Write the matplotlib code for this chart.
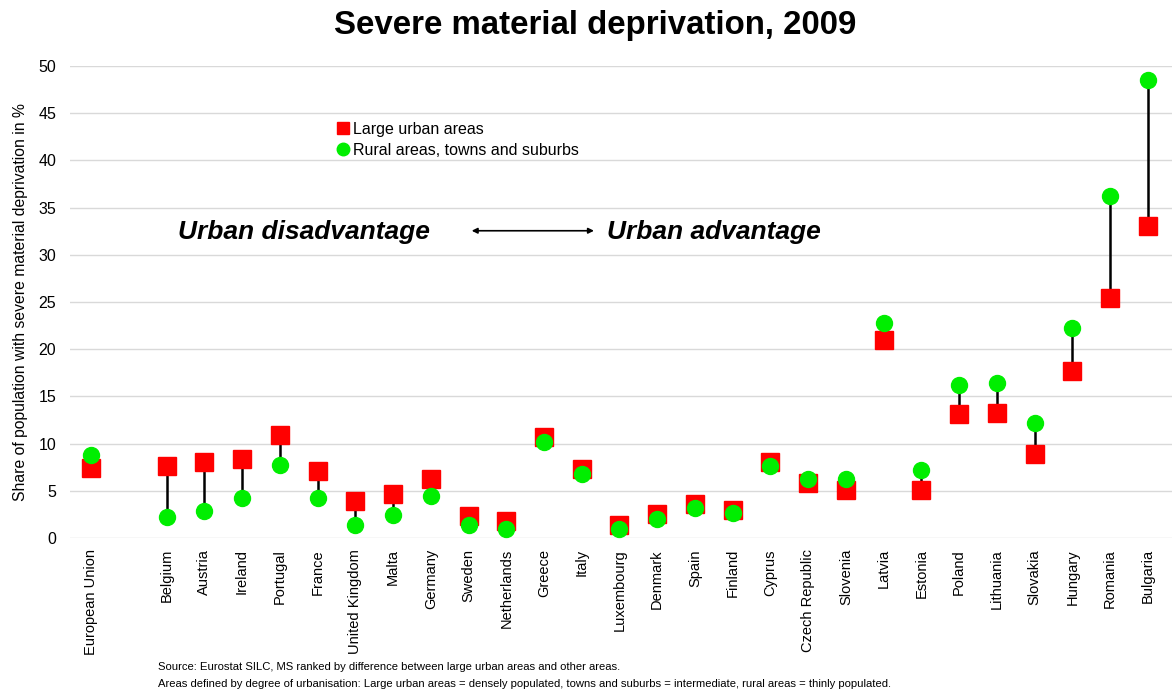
import matplotlib.pyplot as plt
import numpy as np

plt.rcParams['font.family'] = ['Liberation Sans', 'DejaVu Sans']

countries = ['European Union', 'Belgium', 'Austria', 'Ireland', 'Portugal', 'France',
             'United Kingdom', 'Malta', 'Germany', 'Sweden', 'Netherlands', 'Greece',
             'Italy', 'Luxembourg', 'Denmark', 'Spain', 'Finland', 'Cyprus',
             'Czech Republic', 'Slovenia', 'Latvia', 'Estonia', 'Poland', 'Lithuania',
             'Slovakia', 'Hungary', 'Romania', 'Bulgaria']
urban = [7.4, 7.6, 8.1, 8.4, 10.9, 7.1, 3.9, 4.7, 6.2, 2.3, 1.8, 10.7, 7.3, 1.4,
         2.5, 3.6, 3.0, 8.0, 5.8, 5.1, 21.0, 5.1, 13.1, 13.2, 8.9, 17.7, 25.4, 33.1]
rural = [8.8, 2.2, 2.9, 4.2, 7.7, 4.2, 1.4, 2.4, 4.4, 1.4, 0.9, 10.2, 6.8, 0.9,
         2.0, 3.2, 2.7, 7.6, 6.3, 6.3, 22.8, 7.2, 16.2, 16.4, 12.2, 22.2, 36.2, 48.5]

# EU stands apart, one empty slot before the member states
xpos = np.array([0] + list(range(2, len(countries) + 1)))

fig = plt.figure(figsize=(11.72, 6.9), dpi=100)
ax = fig.add_axes([0.0597, 0.2203, 0.9403, 0.684])

ax.vlines(xpos, urban, rural, color='black', linewidth=1.8, zorder=2)
ax.plot(xpos, urban, 's', color='#ff0000', markersize=12.5, linestyle='none',
        label='Large urban areas', zorder=3)
ax.plot(xpos, rural, 'o', color='#00ee00', markersize=11.5, linestyle='none',
        label='Rural areas, towns and suburbs', zorder=4)

ax.set_ylim(0, 50)
ax.set_xlim(-0.56, 28.64)
ax.set_yticks(np.arange(0, 51, 5))
ax.set_xticks(xpos)
ax.set_xticklabels(countries, rotation=90, fontsize=10.5)
ax.tick_params(axis='y', labelsize=11.5, length=0, pad=10)
ax.tick_params(axis='x', length=0, pad=8)
ax.grid(axis='y', color='#d9d9d9', linewidth=1)
ax.set_axisbelow(True)
for s in ax.spines.values():
    s.set_visible(False)

ax.set_ylabel('Share of population with severe material deprivation in %', fontsize=11.3, labelpad=7)

fig.text(0.508, 0.963, 'Severe material deprivation, 2009', ha='center', va='center',
         fontsize=23.8, fontweight='bold')

leg = ax.legend(loc='upper left', bbox_to_anchor=(0.226, 0.912), frameon=False,
                fontsize=11.5, handletextpad=0.05, handlelength=1.2, labelspacing=0.35)
for h in leg.legend_handles:
    h.set_markersize(9)

ax.text(0.098, 0.648, 'Urban disadvantage', transform=ax.transAxes, fontsize=19,
        fontweight='bold', fontstyle='italic', va='center')
ax.text(0.487, 0.648, 'Urban advantage', transform=ax.transAxes, fontsize=19,
        fontweight='bold', fontstyle='italic', va='center')
ax.annotate('', xy=(0.478, 0.651), xytext=(0.362, 0.651), xycoords='axes fraction',
            arrowprops=dict(arrowstyle='<|-|>', color='black', lw=1.2,
                            mutation_scale=8))

fig.text(0.135, 0.034, 'Source: Eurostat SILC, MS ranked by difference between large urban areas and other areas.',
         fontsize=8.15, va='center')
fig.text(0.135, 0.009, 'Areas defined by degree of urbanisation: Large urban areas = densely populated, towns and suburbs = intermediate, rural areas = thinly populated.',
         fontsize=8.15, va='center')

fig.savefig('out.png', dpi=100)
